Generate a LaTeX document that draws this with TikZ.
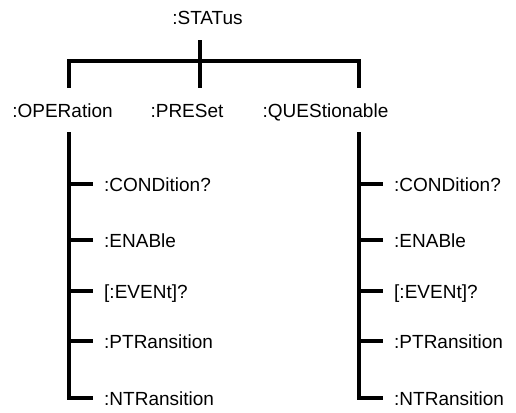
\documentclass[tikz,border=0pt]{standalone}
\usepackage{fontspec}
\setmainfont{Liberation Sans}

\begin{document}
\begin{tikzpicture}[
    x=1pt, y=-1pt,
    every node/.style={font=\fontsize{19}{22}\selectfont, inner sep=0pt},
    cmd/.style={anchor=base, text height=14pt, text depth=0pt, inner ysep=15pt},
    leaf/.style={anchor=west, text height=14pt, text depth=0pt, inner xsep=11pt},
    link/.style={draw=black, line width=3.6pt}
]
\useasboundingbox (0,0) rectangle (516,412);

\node [cmd] (status) at (207.5,25) {:STATus};
\node [cmd] (oper)   at (62.5,117) {:OPERation};
\node [cmd] (preset) at (187,117)  {:PRESet};
\node [cmd] (quest)  at (325.5,117) {:QUEStionable};

\coordinate (hub) at (200,61);
\coordinate (optrunk) at (69,0);
\coordinate (qutrunk) at (359,0);

\foreach \y/\t [count=\i] in {184/{:CONDition?}, 240/{:ENABle}, 291/{[:EVENt]?},
                              341/{:PTRansition}, 398/{:NTRansition}} {
    \node [leaf] (op\i) at (93,\y)  {\t};
    \node [leaf] (qu\i) at (383,\y) {\t};
    \draw [link] (optrunk |- op\i.west) -- (op\i.west);
    \draw [link] (qutrunk |- qu\i.west) -- (qu\i.west);
}

\draw [link] (status.south -| hub) -- (hub |- preset.north);
\draw [link] (optrunk |- oper.north) |- (hub) -| (qutrunk |- quest.north);
\draw [link] (optrunk |- oper.south) |- (op5.west);
\draw [link] (qutrunk |- quest.south) |- (qu5.west);
\end{tikzpicture}
\end{document}
